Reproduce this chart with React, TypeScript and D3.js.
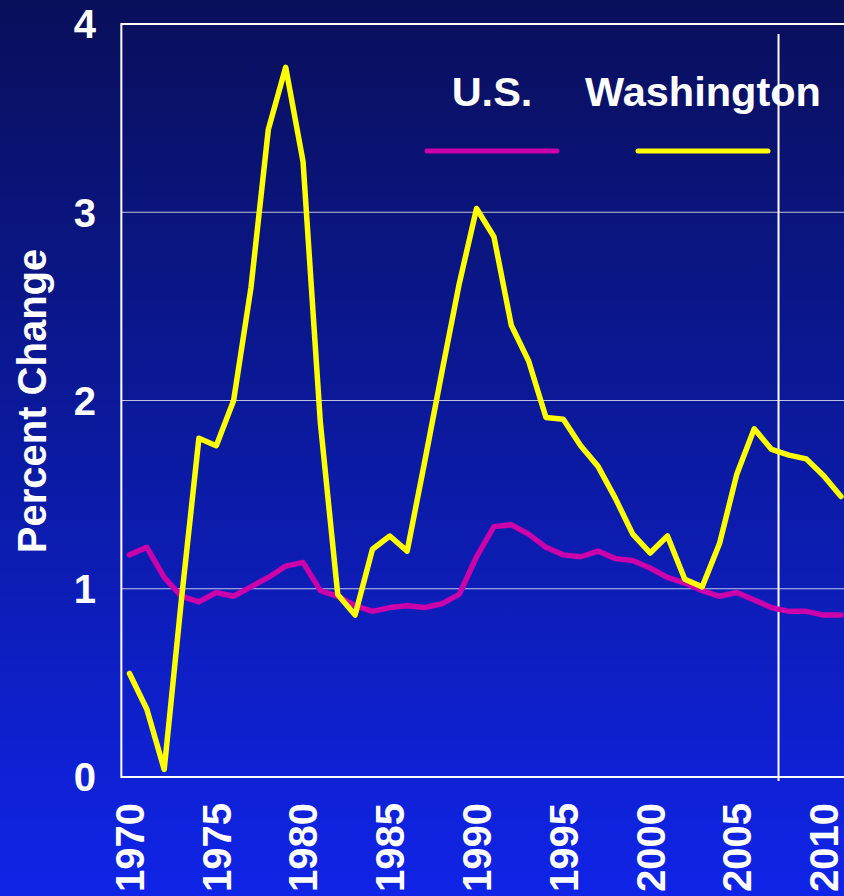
import React, { useEffect, useRef } from 'react';
import * as d3 from 'd3';

// years on the x axis
const years: number[] = d3.range(1970, 2012);

// annual percent change
const usValues: number[] = [
    1.18, 1.22, 1.06, 0.96, 0.93, 0.98, 0.96, 1.01, 1.06, 1.12,
    1.14, 0.99, 0.96, 0.91, 0.88, 0.90, 0.91, 0.90, 0.92, 0.97,
    1.17, 1.33, 1.34, 1.29, 1.22, 1.18, 1.17, 1.20, 1.16, 1.15,
    1.11, 1.06, 1.03, 0.99, 0.96, 0.98, 0.94, 0.90, 0.88, 0.88,
    0.86, 0.86,
];

const waValues: number[] = [
    0.55, 0.36, 0.04, 0.95, 1.80, 1.76, 2.00, 2.60, 3.44, 3.77,
    3.27, 1.88, 0.97, 0.86, 1.21, 1.28, 1.20, 1.67, 2.15, 2.62,
    3.02, 2.87, 2.40, 2.21, 1.91, 1.90, 1.76, 1.65, 1.48, 1.29,
    1.19, 1.28, 1.05, 1.01, 1.24, 1.61, 1.85, 1.74, 1.71, 1.69,
    1.60, 1.49,
];

const yTicks: number[] = [0, 1, 2, 3, 4];
const xTicks: number[] = [1970, 1975, 1980, 1985, 1990, 1995, 2000, 2005, 2010];
const seriesNames: string[] = ['U.S.', 'Washington'];
const seriesColors: string[] = ['#cc00aa', '#ffff00'];
const markerYear = 2007.4;

const App = () => {
    const ref = useRef<SVGSVGElement>(null);
    const width = 844;
    const height = 896;
    const font = "'Liberation Sans', Arial, Helvetica, sans-serif";

    useEffect(() => {
        const svg = d3.select(ref.current);
        svg.selectAll('*').remove();

        // scales
        const xScale = d3.scaleLinear().domain([1970, 2011]).range([129.5, 841]);
        const yScale = d3.scaleLinear().domain([0, 4]).range([777, 24]);
        const left = xScale(1969.53);
        const right = width + 20;

        // background gradient
        const defs = svg.append('defs');
        const bg = defs.append('linearGradient')
            .attr('id', 'bg-gradient')
            .attr('x1', '0%').attr('y1', '0%')
            .attr('x2', '0%').attr('y2', '100%');
        bg.append('stop').attr('offset', '0%').attr('stop-color', '#090f5a');
        bg.append('stop').attr('offset', '50%').attr('stop-color', '#0b1aa0');
        bg.append('stop').attr('offset', '100%').attr('stop-color', '#1024e8');

        svg.append('rect')
            .attr('width', width)
            .attr('height', height)
            .attr('fill', 'url(#bg-gradient)');

        // gridlines
        svg.append('g')
            .selectAll('line')
            .data(yTicks.filter((d) => d > 0 && d < 4))
            .enter()
            .append('line')
            .attr('x1', left)
            .attr('x2', right)
            .attr('y1', (d) => yScale(d))
            .attr('y2', (d) => yScale(d))
            .attr('stroke', '#ffffff')
            .attr('stroke-opacity', 0.75)
            .attr('stroke-width', 1);

        // frame: top, left, bottom
        const frame = svg.append('g').attr('stroke', '#ffffff').attr('stroke-width', 2);
        frame.append('line')
            .attr('x1', left).attr('x2', right)
            .attr('y1', yScale(4)).attr('y2', yScale(4));
        frame.append('line')
            .attr('x1', left).attr('x2', left)
            .attr('y1', yScale(4) - 1).attr('y2', yScale(0) + 1);
        frame.append('line')
            .attr('x1', left).attr('x2', right)
            .attr('y1', yScale(0)).attr('y2', yScale(0));

        // marker line
        svg.append('line')
            .attr('x1', xScale(markerYear)).attr('x2', xScale(markerYear))
            .attr('y1', 34).attr('y2', yScale(0) + 4)
            .attr('stroke', '#ffffff')
            .attr('stroke-width', 2);

        // y tick labels
        svg.append('g')
            .selectAll('text')
            .data(yTicks)
            .enter()
            .append('text')
            .attr('x', 96)
            .attr('y', (d) => yScale(d))
            .attr('dy', '0.36em')
            .attr('text-anchor', 'end')
            .attr('fill', '#ffffff')
            .style('font-family', font)
            .style('font-weight', 'bold')
            .style('font-size', '40px')
            .text((d) => d);

        // x tick labels, rotated
        svg.append('g')
            .selectAll('text')
            .data(xTicks)
            .enter()
            .append('text')
            .attr('transform', (d) => `translate(${xScale(d)},803) rotate(-90)`)
            .attr('dy', '0.36em')
            .attr('text-anchor', 'end')
            .attr('fill', '#ffffff')
            .style('font-family', font)
            .style('font-weight', 'bold')
            .style('font-size', '40px')
            .text((d) => d);

        // y axis title
        svg.append('text')
            .attr('transform', 'translate(46,401) rotate(-90)')
            .attr('text-anchor', 'middle')
            .attr('fill', '#ffffff')
            .style('font-family', font)
            .style('font-weight', 'bold')
            .style('font-size', '40px')
            .text('Percent Change');

        // lines
        const line = d3.line<number>()
            .x((d, i) => xScale(years[i]))
            .y((d) => yScale(d));

        [usValues, waValues].forEach((values, i) => {
            svg.append('path')
                .datum(values)
                .attr('d', line)
                .attr('fill', 'none')
                .attr('stroke', seriesColors[i])
                .attr('stroke-width', 5.5)
                .attr('stroke-linejoin', 'round')
                .attr('stroke-linecap', 'round');
        });

        // legend
        const legendX = [492, 703];
        const legend = svg.append('g');
        seriesNames.forEach((name, i) => {
            legend.append('text')
                .attr('x', legendX[i])
                .attr('y', 106)
                .attr('text-anchor', 'middle')
                .attr('fill', '#ffffff')
                .style('font-family', font)
                .style('font-weight', 'bold')
                .style('font-size', '41.5px')
                .text(name);
            legend.append('line')
                .attr('x1', legendX[i] - 65)
                .attr('x2', legendX[i] + 65)
                .attr('y1', 151)
                .attr('y2', 151)
                .attr('stroke', seriesColors[i])
                .attr('stroke-width', 5)
                .attr('stroke-linecap', 'round');
        });
    }, []);

    return (
        <svg
            ref={ref}
            width={width}
            height={height}
            style={{ position: 'absolute', top: 0, left: 0, display: 'block' }}
        />
    );
};

export default App;
